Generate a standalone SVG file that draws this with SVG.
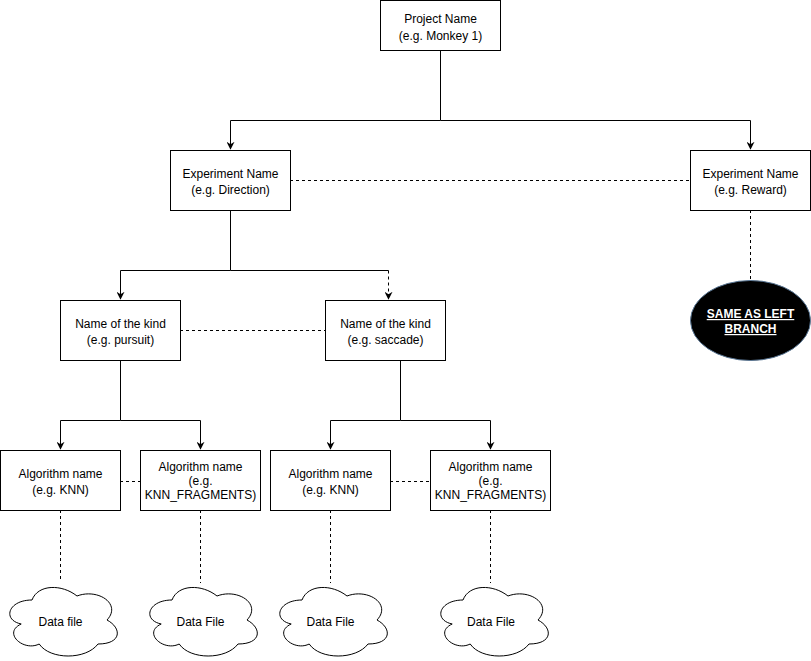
<svg xmlns="http://www.w3.org/2000/svg" width="811" height="661" viewBox="0 0 811 661">
<style>
.box{fill:#fff;stroke:#000;stroke-width:1}
.t{font-family:"Liberation Sans",Arial,sans-serif;font-size:12px;fill:#000;text-anchor:middle}
.w{font-family:"Liberation Sans",Arial,sans-serif;font-size:12px;fill:#fff;font-weight:bold;text-decoration:underline;text-anchor:middle}
.e{fill:none;stroke:#000;stroke-width:1}
.d{fill:none;stroke:#000;stroke-width:1;stroke-dasharray:3 3}
</style>
<defs>
<marker id="arr" viewBox="0 0 10 10" refX="9" refY="5" markerWidth="8" markerHeight="8" markerUnits="userSpaceOnUse" orient="auto">
<path d="M0,0 L10,5 L0,10 L3,5 Z" fill="#000"/>
</marker>
<path id="cloud" d="M30,20 C6,20 0,40 19.2,44 C0,52.8 21.6,72 37.2,64 C48,80 84,80 96,64 C120,64 120,48 105,40 C120,24 96,8 75,16 C60,4 36,4 30,20 Z" fill="#fff" stroke="#000" stroke-width="1"/>
</defs>
<rect width="811" height="661" fill="#fff"/>
<g id="connectors">
<path class="e" d="M440.5,50 V120.5 H230.5 V149" marker-end="url(#arr)"/>
<path class="e" d="M440.5,120.5 H750.5 V149" marker-end="url(#arr)"/>
<path class="d" d="M290,180.5 H690"/>
<path class="e" d="M230.5,210 V270.5 H120.5 V299" marker-end="url(#arr)"/>
<path class="e" d="M230.5,270.5 H388.5"/>
<path class="d" d="M388.5,270.5 V299" marker-end="url(#arr)"/>
<path class="d" d="M180,330.5 H325"/>
<path class="e" d="M120.5,360 V420.5 H60.5 V449" marker-end="url(#arr)"/>
<path class="e" d="M120.5,420.5 H200.5 V449" marker-end="url(#arr)"/>
<path class="e" d="M400.5,360 V420.5 H330.5 V449" marker-end="url(#arr)"/>
<path class="e" d="M400.5,420.5 H490.5 V449" marker-end="url(#arr)"/>
<path class="d" d="M120,481.5 H140"/>
<path class="d" d="M390,481.5 H430"/>
<path class="d" d="M60.5,510 V580"/>
<path class="d" d="M200.5,510 V583"/>
<path class="d" d="M330.5,510 V583"/>
<path class="d" d="M490.5,510 V583"/>
<path class="d" d="M750.5,210 V280"/>
</g>
<g id="project">
<rect class="box" x="380.5" y="0.5" width="120" height="50"/>
<text class="t" x="440.5" y="23">Project Name</text>
<text class="t" x="440.5" y="40">(e.g. Monkey 1)</text>
</g>
<g id="exp-direction">
<rect class="box" x="170.5" y="150.5" width="120" height="60"/>
<text class="t" x="230.5" y="178">Experiment Name</text>
<text class="t" x="230.5" y="194">(e.g. Direction)</text>
</g>
<g id="exp-reward">
<rect class="box" x="690.5" y="150.5" width="120" height="60"/>
<text class="t" x="750.5" y="178">Experiment Name</text>
<text class="t" x="750.5" y="194">(e.g. Reward)</text>
</g>
<g id="same-as-left">
<ellipse cx="750.5" cy="320.5" rx="60" ry="40" fill="#000" stroke="#5b7896" stroke-width="1"/>
<text class="w" x="750.5" y="318">SAME AS LEFT</text>
<text class="w" x="750.5" y="333">BRANCH</text>
</g>
<g id="kind-pursuit">
<rect class="box" x="60.5" y="300.5" width="120" height="60"/>
<text class="t" x="120.5" y="328">Name of the kind</text>
<text class="t" x="120.5" y="344">(e.g. pursuit)</text>
</g>
<g id="kind-saccade">
<rect class="box" x="325.5" y="300.5" width="120" height="60"/>
<text class="t" x="385.5" y="328">Name of the kind</text>
<text class="t" x="385.5" y="344">(e.g. saccade)</text>
</g>
<g id="algo-1">
<rect class="box" x="0.5" y="450.5" width="120" height="60"/>
<text class="t" x="60.5" y="478">Algorithm name</text>
<text class="t" x="60.5" y="494">(e.g. KNN)</text>
</g>
<g id="algo-2">
<rect class="box" x="140.5" y="450.5" width="120" height="60"/>
<text class="t" x="200.5" y="471">Algorithm name</text>
<text class="t" x="200.5" y="485">(e.g.</text>
<text class="t" x="200.5" y="499">KNN_FRAGMENTS)</text>
</g>
<g id="algo-3">
<rect class="box" x="270.5" y="450.5" width="120" height="60"/>
<text class="t" x="330.5" y="478">Algorithm name</text>
<text class="t" x="330.5" y="494">(e.g. KNN)</text>
</g>
<g id="algo-4">
<rect class="box" x="430.5" y="450.5" width="120" height="60"/>
<text class="t" x="490.5" y="471">Algorithm name</text>
<text class="t" x="490.5" y="485">(e.g.</text>
<text class="t" x="490.5" y="499">KNN_FRAGMENTS)</text>
</g>
<g id="data-1">
<use href="#cloud" x="2" y="580"/>
<text class="t" x="60.5" y="626">Data file</text>
</g>
<g id="data-2">
<use href="#cloud" x="142" y="580"/>
<text class="t" x="200.5" y="626">Data File</text>
</g>
<g id="data-3">
<use href="#cloud" x="272" y="580"/>
<text class="t" x="330.5" y="626">Data File</text>
</g>
<g id="data-4">
<use href="#cloud" x="433" y="580"/>
<text class="t" x="491" y="626">Data File</text>
</g>
</svg>
